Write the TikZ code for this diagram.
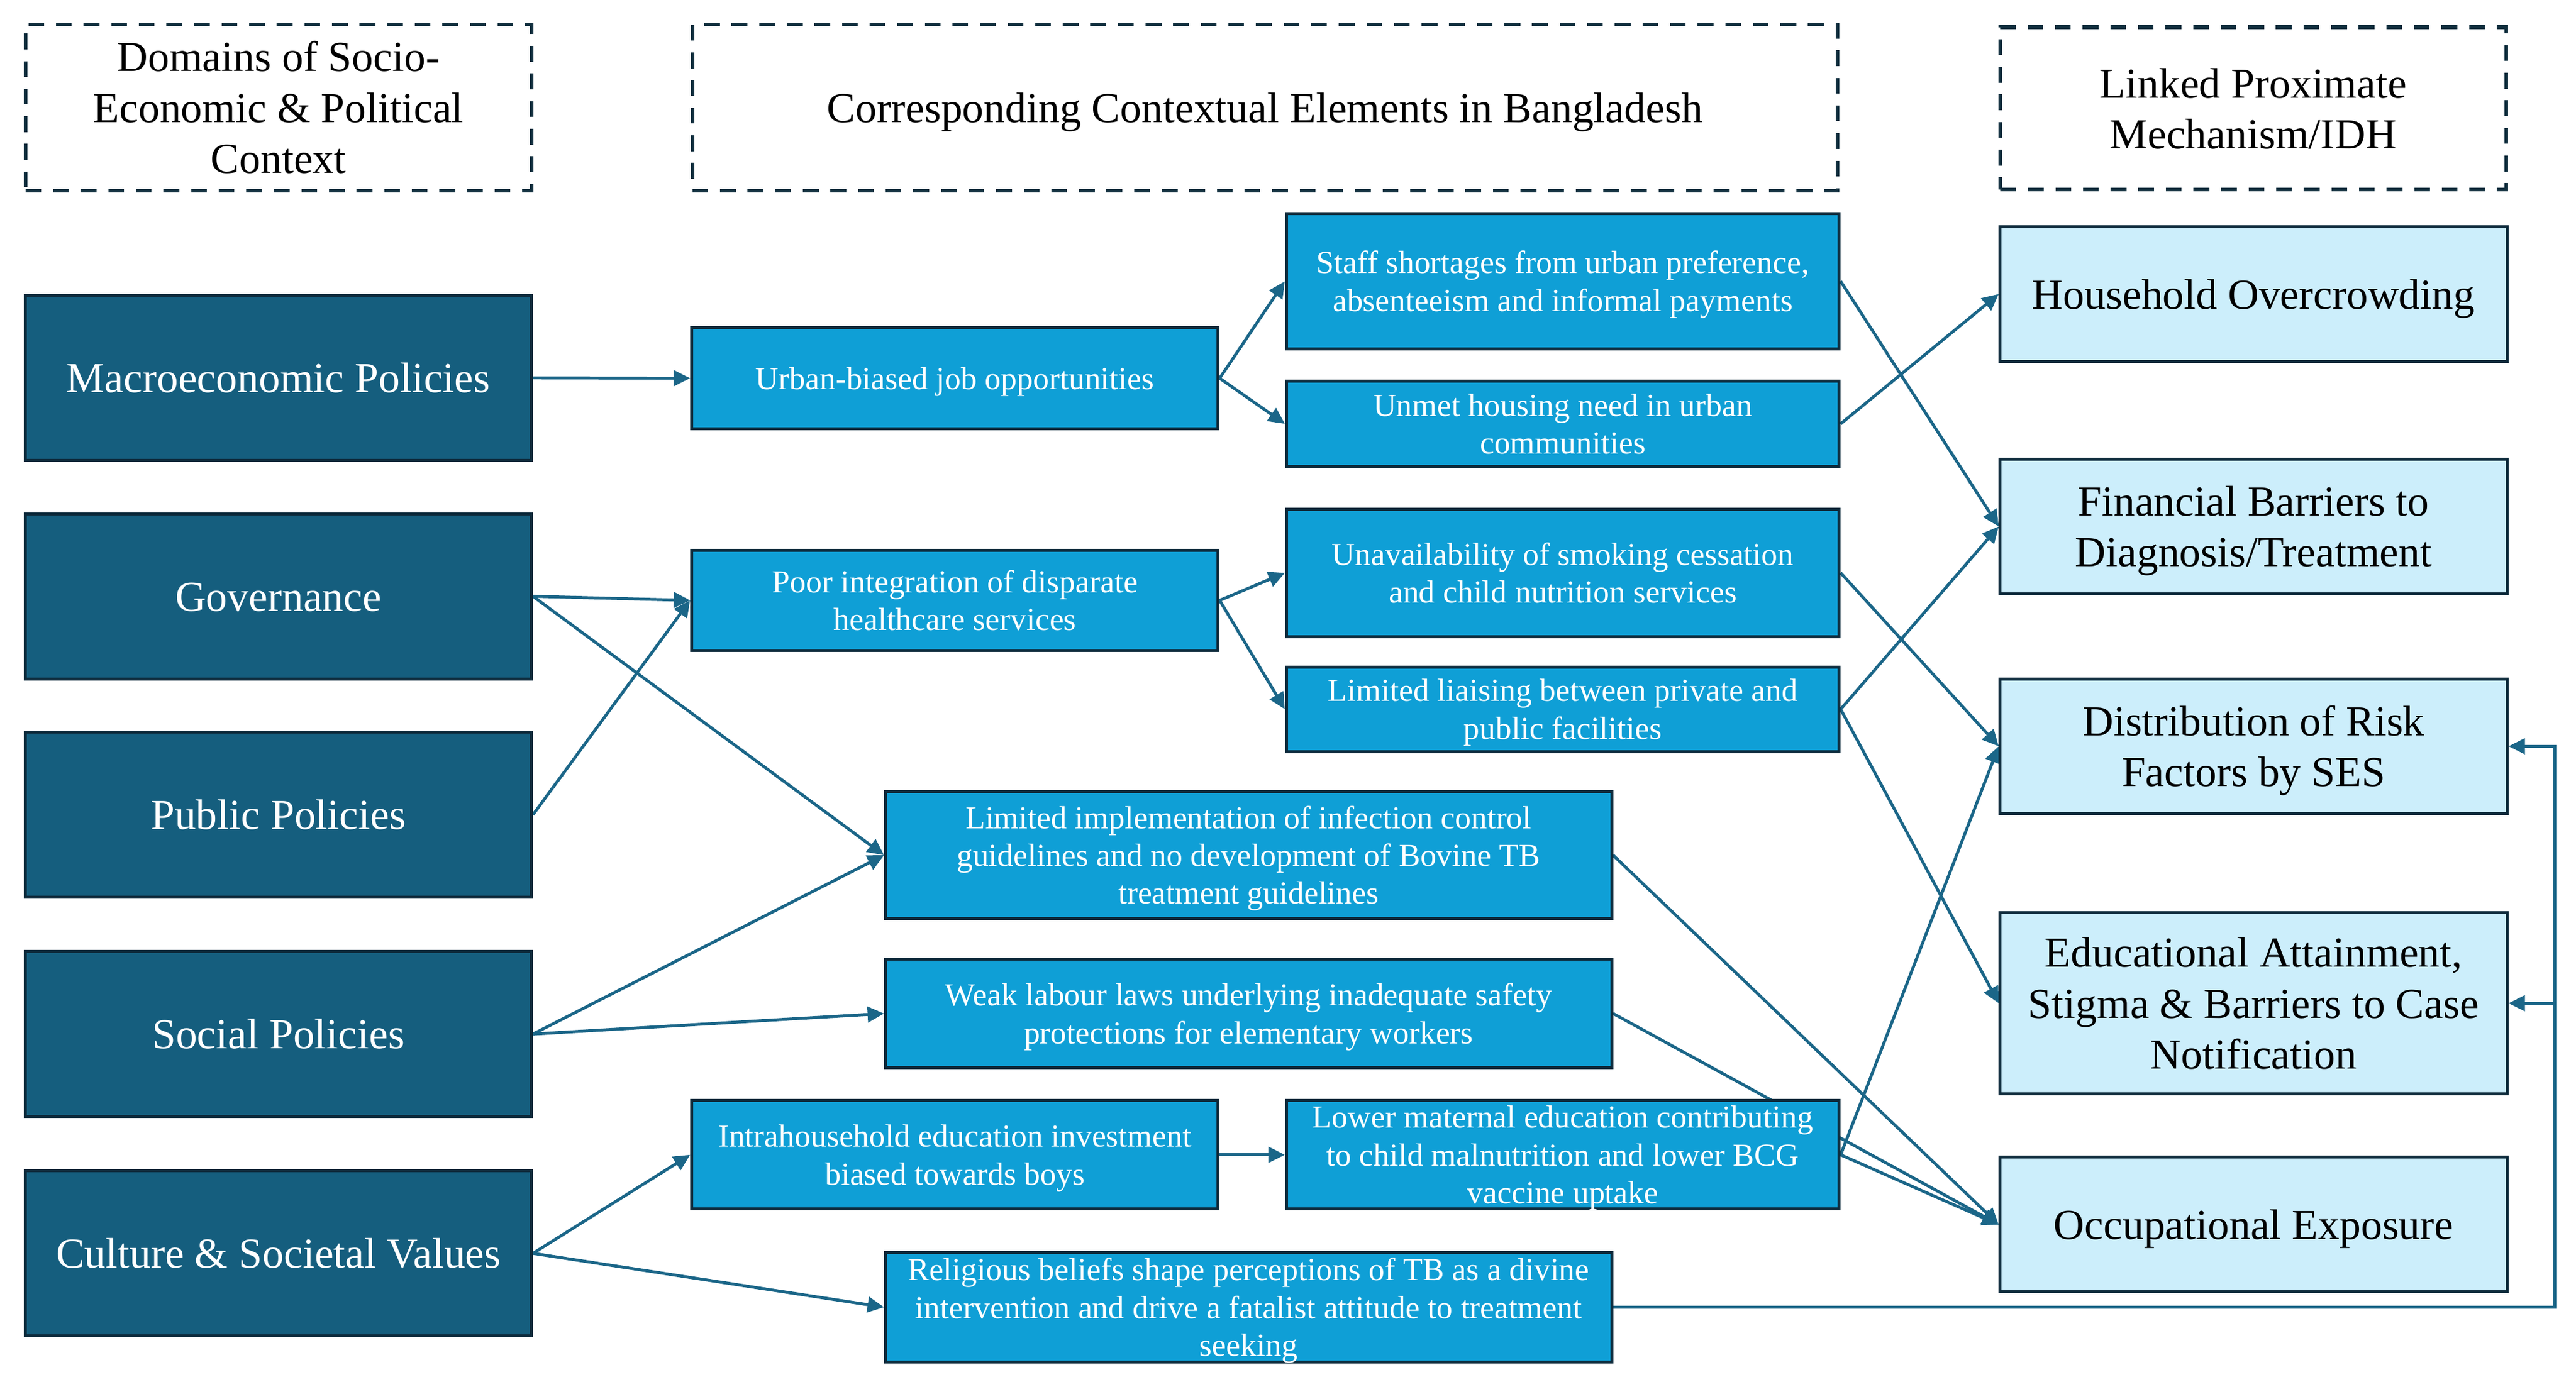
\documentclass[tikz,border=0pt]{standalone}
\usepackage{fontspec}
\setmainfont{Liberation Serif}
\usetikzlibrary{arrows.meta}
\pgfdeclarelayer{background}
\pgfsetlayers{background,main}
\definecolor{domfill}{HTML}{155E7E}
\definecolor{midfill}{HTML}{0F9FD6}
\definecolor{lightfill}{HTML}{CCEEFB}
\definecolor{boxline}{HTML}{0D2A3B}
\definecolor{arrcol}{HTML}{1B6688}
\definecolor{dashcol}{HTML}{12303F}
\newcommand{\topstrut}{\rule{0pt}{0.923em}}
\newcommand{\botstrut}{\rule[-0.231em]{0pt}{0.231em}}
\newcommand{\bx}[7]{\node[#2, minimum width=#5*0.5pt, minimum height=#6*0.5pt] (#1) at (#3,#4) {\topstrut#7\botstrut};}
\begin{document}
\begin{tikzpicture}[x=0.5pt,y=-0.5pt,
  boxbase/.style={draw=boxline, line width=0.9pt, inner sep=1pt, align=center},
  bigtxt/.style={font=\fontsize{13}{15.5}\selectfont},
  smalltxt/.style={font=\fontsize{9.75}{11.5}\selectfont},
  hdr/.style={boxbase, bigtxt, draw=dashcol, line width=1.1pt, dash pattern=on 4.8pt off 3.6pt, fill=white, text=black},
  dom/.style={boxbase, bigtxt, fill=domfill, text=white},
  mid/.style={boxbase, smalltxt, fill=midfill, text=white},
  tight/.style={inner ysep=-0.7pt},
  prox/.style={boxbase, bigtxt, fill=lightfill, text=black},
  arr/.style={draw=arrcol, line width=0.9pt, -{Triangle[length=5pt,width=4.7pt]}}
]
\useasboundingbox (0,0) rectangle (1568,841);
% headers
\bx{h1}{hdr}{169.5}{65.5}{308}{101}{Domains of Socio-\\Economic \& Political\\Context}
\bx{h2}{hdr}{770}{65.5}{697}{101}{Corresponding Contextual Elements in Bangladesh}
\bx{h3}{hdr}{1371.5}{66}{308}{99}{Linked Proximate\\Mechanism/IDH}
% domains
\bx{macro}{dom}{169.5}{230}{308}{100.5}{Macroeconomic Policies}
\bx{gov}{dom}{169.5}{363}{308}{100.5}{Governance}
\bx{pub}{dom}{169.5}{496}{308}{100.5}{Public Policies}
\bx{soc}{dom}{169.5}{629.5}{308}{100.5}{Social Policies}
\bx{cul}{dom}{169.5}{763}{308}{100.5}{Culture \& Societal Values}
% contextual elements
\bx{urban}{mid}{581.25}{230.25}{320.5}{61.5}{Urban-biased job opportunities}
\bx{staff}{mid}{951.25}{171.25}{336.5}{82.5}{Staff shortages from urban preference,\\absenteeism and informal payments}
\bx{unmet}{mid}{951.25}{258}{336.5}{52}{Unmet housing need in urban\\communities}
\bx{poor}{mid}{581.25}{365.5}{320.5}{61}{Poor integration of disparate\\healthcare services}
\bx{unavail}{mid}{951.25}{348.75}{336.5}{77.5}{Unavailability of smoking cessation\\and child nutrition services}
\bx{liais}{mid}{951.25}{431.75}{336.5}{51.5}{Limited liaising between private and\\public facilities}
\bx{limimpl}{mid}{760}{520.6}{442}{77.3}{Limited implementation of infection control\\guidelines and no development of Bovine TB\\treatment guidelines}
\bx{weak}{mid}{760}{617}{442}{66}{Weak labour laws underlying inadequate safety\\protections for elementary workers}
\bx{intra}{mid}{581.25}{703}{320.5}{66}{Intrahousehold education investment\\biased towards boys}
\bx{lower}{mid, tight}{951.25}{703}{336.5}{66}{Lower maternal education contributing\\to child malnutrition and lower BCG\\vaccine uptake}
\bx{relig}{mid, tight}{760}{795.75}{442}{66.5}{Religious beliefs shape perceptions of TB as a divine\\intervention and drive a fatalist attitude to treatment\\seeking}
% proximate mechanisms
\bx{house}{prox}{1371.75}{179}{308.5}{82}{Household Overcrowding}
\bx{fin}{prox}{1371.75}{320.5}{308.5}{82}{Financial Barriers to\\Diagnosis/Treatment}
\bx{dist}{prox}{1371.75}{454.3}{308.5}{82}{Distribution of Risk\\Factors by SES}
\bx{edu}{prox}{1371.75}{610.75}{308.5}{110.5}{Educational Attainment,\\Stigma \& Barriers to Case\\Notification}
\bx{occ}{prox}{1371.75}{745.5}{308.5}{82}{Occupational Exposure}
\coordinate (fbx) at (1555,0);
\begin{pgfonlayer}{background}
\draw[arr] (macro.east) -- (urban.west);
\draw[arr] (urban.east) -- (staff.west);
\draw[arr] (urban.east) -- (unmet.west);
\draw[arr] (gov.east) -- (poor.west);
\draw[arr] (pub.east) -- (poor.west);
\draw[arr] (gov.east) -- (limimpl.west);
\draw[arr] (soc.east) -- (limimpl.west);
\draw[arr] (soc.east) -- (weak.west);
\draw[arr] (cul.east) -- (intra.west);
\draw[arr] (cul.east) -- (relig.west);
\draw[arr] (poor.east) -- (unavail.west);
\draw[arr] (poor.east) -- (liais.west);
\draw[arr] (intra.east) -- (lower.west);
\draw[arr] (staff.east) -- (fin.west);
\draw[arr] (unmet.east) -- (house.west);
\draw[arr] (unavail.east) -- (dist.west);
\draw[arr] (liais.east) -- (fin.west);
\draw[arr] (liais.east) -- (edu.west);
\draw[arr] (limimpl.east) -- (occ.west);
\draw[arr] (weak.east) -- (occ.west);
\draw[arr] (lower.east) -- (dist.west);
\draw[arr] (lower.east) -- (occ.west);
\draw[arr] (relig.east) -- (relig.east -| fbx) |- (dist.east);
\draw[arr] (edu.east -| fbx) -- (edu.east);
\end{pgfonlayer}
\end{tikzpicture}
\end{document}
